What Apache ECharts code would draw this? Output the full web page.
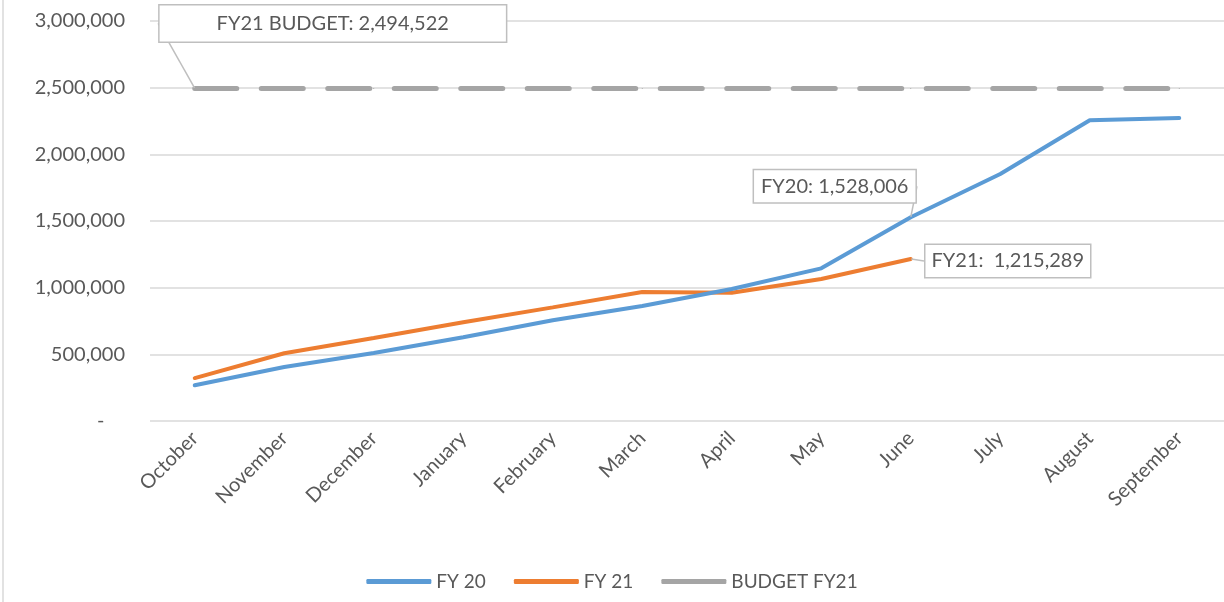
<!DOCTYPE html>
<html><head><meta charset="utf-8">
<script src="https://cdn.jsdelivr.net/npm/echarts@6/dist/echarts.min.js"></script>
<style>html,body{margin:0;padding:0;background:#fff}#c{width:1224px;height:602px}</style>
</head><body><div id="c"></div>
<script>
const months = ['October','November','December','January','February','March','April','May','June','July','August','September'];
const fy20 = [268000, 405000, 510000, 628000, 755000, 862000, 990000, 1145000, 1528006, 1852000, 2255000, 2272000];
const fy21 = [322000, 508000, 622000, 740000, 852000, 967000, 962000, 1065000, 1215289];
const budget = [2494522, 2494522, 2494522, 2494522, 2494522, 2494522, 2494522, 2494522, 2494522, 2494522, 2494522, 2494522];
const yTicks = [0, 500000, 1000000, 1500000, 2000000, 2500000, 3000000];

const FONT = 'Lato';
const TXT = '#595959';
const fmt = v => v.toLocaleString('en-US');

function callout(pad){
  return {show:true, position:'inside', fontFamily:FONT, fontSize:20, color:TXT,
    backgroundColor:'#fff', borderColor:'#bfbfbf', borderWidth:1.5, padding:pad};
}
function mark(data, idx, text, pad){
  return data.map((v,i)=> i===idx ? {value:v, label:Object.assign(callout(pad),{formatter:text})} : v);
}

const chart = echarts.init(document.getElementById('c'));
chart.setOption({
  animation:false,
  grid:{left:150, right:0, top:21, bottom:181},
  xAxis:{type:'category', data:months, boundaryGap:true,
    axisLine:{show:false}, axisTick:{show:false},
    axisLabel:{rotate:45, color:TXT, fontFamily:FONT, fontSize:20, margin:14, interval:0}},
  yAxis:{type:'value', min:yTicks[0], max:yTicks[yTicks.length-1], interval:yTicks[1]-yTicks[0],
    axisLine:{show:false}, axisTick:{show:false},
    splitLine:{lineStyle:{color:'#d9d9d9', width:1.5}},
    axisLabel:{color:TXT, fontFamily:FONT, fontSize:20, margin:25,
      formatter:v => v===0 ? '-    ' : fmt(v)}},
  legend:{bottom:6, left:'center', itemWidth:65, itemHeight:5, itemGap:28,
    textStyle:{color:TXT, fontFamily:FONT, fontSize:19},
    data:[{name:'FY 20', icon:'roundRect'},{name:'FY 21', icon:'roundRect'},{name:'BUDGET FY21', icon:'roundRect'}]},
  graphic:[{type:'line', shape:{x1:3,y1:0,x2:3,y2:602}, style:{stroke:'#d9d9d9', lineWidth:1.5}}],
  series:[
    {name:'BUDGET FY21', type:'line', data:mark(budget,0,'FY21 BUDGET: '+fmt(budget[0]),[8,57]),
      symbol:'circle', symbolSize:1, showSymbol:true, color:'#a5a5a5',
      lineStyle:{width:5, type:[42,24.5], cap:'round', color:'#a5a5a5'},
      labelLine:{show:true, lineStyle:{color:'#bfbfbf', width:1.5}},
      labelLayout:()=>({dx:138, dy:-65}), z:1},
    {name:'FY 20', type:'line', data:mark(fy20,8,'FY20: '+fmt(fy20[8]),[6,7]),
      symbol:'circle', symbolSize:1, showSymbol:true, color:'#5b9bd5',
      lineStyle:{width:4, color:'#5b9bd5', cap:'round'},
      labelLine:{show:true, lineStyle:{color:'#bfbfbf', width:1.5}},
      labelLayout:()=>({dx:-76, dy:-31}), z:3},
    {name:'FY 21', type:'line', data:mark(fy21,8,'FY21:  '+fmt(fy21[8]),[6,6]),
      symbol:'circle', symbolSize:1, showSymbol:true, color:'#ed7d31',
      lineStyle:{width:4, color:'#ed7d31', cap:'round'},
      labelLine:{show:true, lineStyle:{color:'#bfbfbf', width:1.5}},
      labelLayout:()=>({dx:97, dy:2}), z:2}
  ]
});
</script></body></html>
